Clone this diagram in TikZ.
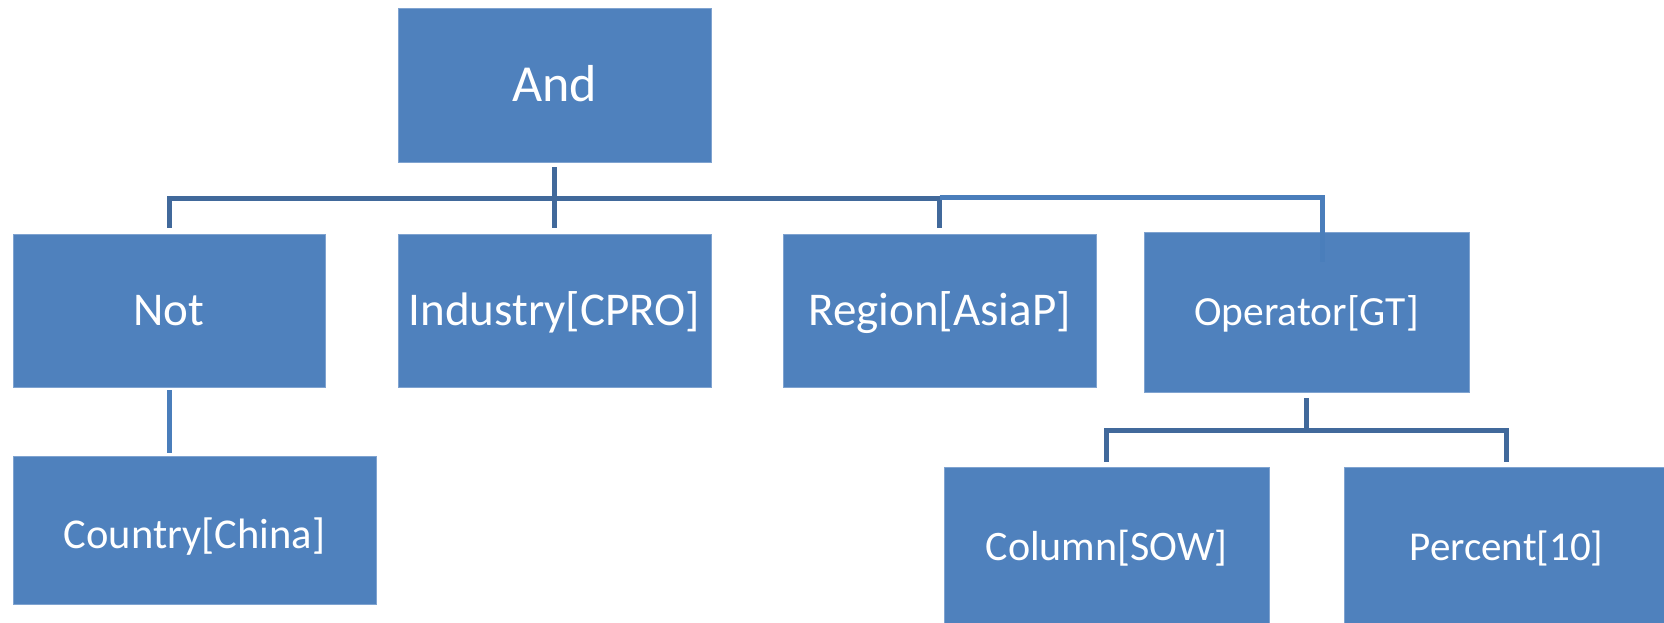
\documentclass[tikz,border=0pt]{standalone}
\usepackage{fontspec}
\setmainfont{Carlito}
\definecolor{boxblue}{HTML}{4F81BD}
\definecolor{boxedge}{HTML}{7FA3D0}
\definecolor{conndark}{HTML}{41699B}
\definecolor{connlight}{HTML}{4A7EBB}
\begin{document}
\begin{tikzpicture}[x=1pt,y=-1pt,
  box/.style={fill=boxblue, draw=boxedge, line width=0.8pt, inner sep=0pt,
    text=white, align=center, text depth=0pt},
  conn/.style={draw=conndark, line width=5pt},
  connl/.style={draw=connlight, line width=5pt}]
\clip (0,0) rectangle (1664,623);
\fill[white] (0,0) rectangle (1664,623);
% nodes
\node[box, minimum width=313, minimum height=154, font=\fontsize{52}{60}\selectfont, text height=33.5pt] (and) at (554.5,85) {And};
\node[box, minimum width=312, minimum height=153, font=\fontsize{47}{56}\selectfont, text height=30.3pt] (not) at (169,310.5) {Not};
\node[box, minimum width=313, minimum height=153, font=\fontsize{47}{56}\selectfont, text height=30.3pt] (industry) at (554.5,310.5) {Industry[CPRO]};
\node[box, minimum width=313, minimum height=153, font=\fontsize{47}{56}\selectfont, text height=30.3pt] (region) at (939.5,310.5) {Region[AsiaP]};
\node[box, minimum width=325, minimum height=160, font=\fontsize{41.5}{50}\selectfont, text height=26.7pt] (operator) at (1306.5,312) {Operator[GT]};
\node[box, minimum width=363, minimum height=148, font=\fontsize{42.5}{50}\selectfont, text height=37pt] (country) at (194.5,530) {Country[China]};
\node[box, minimum width=325, minimum height=160, font=\fontsize{42}{50}\selectfont, text height=27pt] (column) at (1106.5,547) {Column[SOW]};
\node[box, minimum width=325, minimum height=160, font=\fontsize{41}{50}\selectfont, text height=26.4pt] (percent) at (1506.5,547) {Percent[10]};
% bus coordinates
\coordinate (bus) at (0,198);
\coordinate (bustwo) at (0,197);
\coordinate (busthree) at (0,430);
% And -> children
\draw[conn] ([yshift=-5pt]and.south) -- (and.south |- bus);
\draw[conn] ([yshift=6pt]not.north) |- (region.north |- bus) -- ([yshift=6pt]region.north);
\draw[conn] (industry.north |- bus) -- ([yshift=6pt]industry.north);
\draw[connl] (region.north |- bustwo) -| ([xshift=15.5pt,yshift=-30pt]operator.north);
% Not -> Country
\draw[connl] ([yshift=-3pt]not.south) -- ([yshift=3pt]not.south |- country.north);
% Operator -> children
\draw[conn] ([yshift=-6pt]operator.south) -- (operator.south |- busthree);
\draw[conn] ([yshift=5pt]column.north) |- (percent.north |- busthree) -- ([yshift=5pt]percent.north);
\end{tikzpicture}
\end{document}
